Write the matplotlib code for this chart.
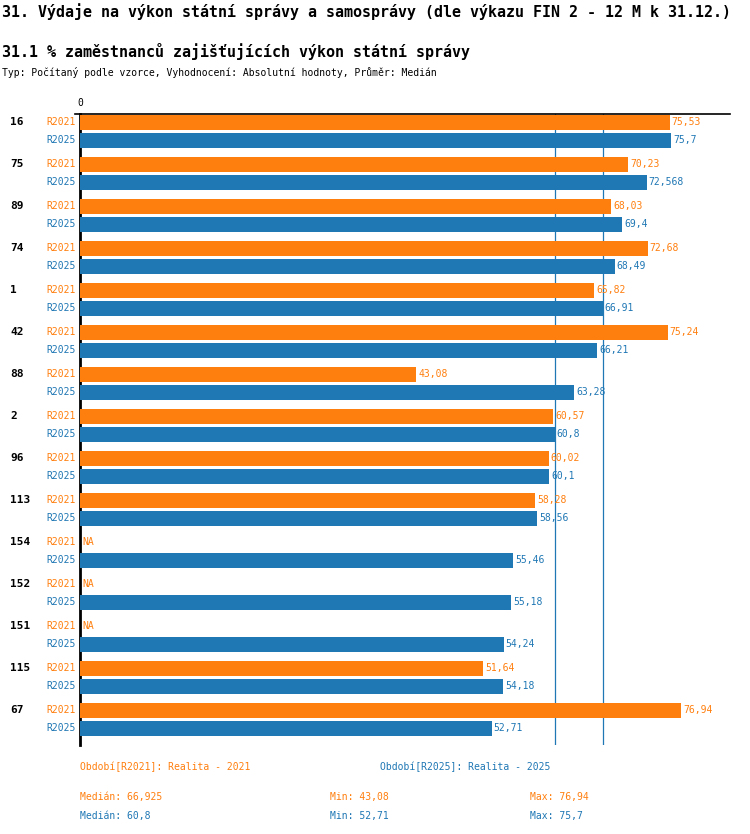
import matplotlib
matplotlib.use("Agg")
import matplotlib.pyplot as plt
import numpy as np

categories = ["16", "75", "89", "74", "1", "42", "88", "2", "96", "113", "154", "152", "151", "115", "67"]
r2021 = [75.53, 70.23, 68.03, 72.68, 65.82, 75.24, 43.08, 60.57, 60.02, 58.28, None, None, None, 51.64, 76.94]
r2025 = [75.7, 72.568, 69.4, 68.49, 66.91, 66.21, 63.28, 60.8, 60.1, 58.56, 55.46, 55.18, 54.24, 54.18, 52.71]
r2021_lbl = ["75,53", "70,23", "68,03", "72,68", "65,82", "75,24", "43,08", "60,57", "60,02", "58,28", "NA", "NA", "NA", "51,64", "76,94"]
r2025_lbl = ["75,7", "72,568", "69,4", "68,49", "66,91", "66,21", "63,28", "60,8", "60,1", "58,56", "55,46", "55,18", "54,24", "54,18", "52,71"]
median = [66.925, 60.8]

ORANGE = "#ff7f0e"
BLUE = "#1f77b4"
MONO = "DejaVu Sans Mono"
W, H = 750, 834

fig = plt.figure(figsize=(W / 100, H / 100), dpi=100)

def px(x, y):
    return x / W, 1 - y / H

# axes from x=80..730, y=114..745 (pixels)
ax = fig.add_axes([80 / W, 1 - 745 / H, 650 / W, (745 - 114) / H])
scale = 7.81  # px per unit
ax.set_xlim(0, 650 / scale)
ax.set_ylim(14 + 26 / 42, -17 / 42)
ax.axis("off")
ax.plot([0, 0], [14 + 26 / 42, -17 / 42], color="black", lw=2, clip_on=False)
ax.plot([-0.6, 650 / scale], [-17 / 42, -17 / 42], color="black", lw=1.2, clip_on=False)

off = 9 / 42
h = 15 / 42
y = np.arange(len(categories))
for m in median:
    ax.axvline(m, color=BLUE, lw=0.9, zorder=0)

v21 = [v if v is not None else 0 for v in r2021]
ax.barh(y - off, v21, height=h, color=ORANGE, zorder=2)
ax.barh(y + off, r2025, height=h, color=BLUE, zorder=2)

for i in range(len(categories)):
    ax.text(v21[i] + 0.25, i - off, r2021_lbl[i], color=ORANGE, family=MONO, fontsize=7, va="center")
    ax.text(r2025[i] + 0.25, i + off, r2025_lbl[i], color=BLUE, family=MONO, fontsize=7, va="center")
    ax.text(-70 / scale, i - off, categories[i], family=MONO, fontsize=8, fontweight="bold", va="center")
    ax.text(-4 / scale, i - off, "R2021", color=ORANGE, family=MONO, fontsize=7, va="center", ha="right")
    ax.text(-4 / scale, i + off, "R2025", color=BLUE, family=MONO, fontsize=7, va="center", ha="right")

fig.text(*px(80, 103), "0", family=MONO, fontsize=7, ha="center", va="center")
fig.text(*px(2, 12), "31. Výdaje na výkon státní správy a samosprávy (dle výkazu FIN 2 - 12 M k 31.12.)",
         family=MONO, fontsize=10.8, fontweight="bold", va="center")
fig.text(*px(2, 51), "31.1 % zaměstnanců zajišťujících výkon státní správy",
         family=MONO, fontsize=10.8, fontweight="bold", va="center")
fig.text(*px(2, 73), "Typ: Počítaný podle vzorce, Vyhodnocení: Absolutní hodnoty, Průměr: Medián",
         family=MONO, fontsize=7, va="center")

fig.text(*px(80, 767), "Období[R2021]: Realita - 2021", color=ORANGE, family=MONO, fontsize=7, va="center")
fig.text(*px(380, 767), "Období[R2025]: Realita - 2025", color=BLUE, family=MONO, fontsize=7, va="center")
for row, col, vals in [(797, ORANGE, r2021), (816, BLUE, r2025)]:
    good = [v for v in vals if v is not None]
    med = np.median(good)
    fmt = lambda v: ("%g" % round(v, 3)).replace(".", ",")
    fig.text(*px(80, row), "Medián: " + fmt(med), color=col, family=MONO, fontsize=7, va="center")
    fig.text(*px(330, row), "Min: " + fmt(min(good)), color=col, family=MONO, fontsize=7, va="center")
    fig.text(*px(530, row), "Max: " + fmt(max(good)), color=col, family=MONO, fontsize=7, va="center")

fig.savefig("out.png", dpi=100)
